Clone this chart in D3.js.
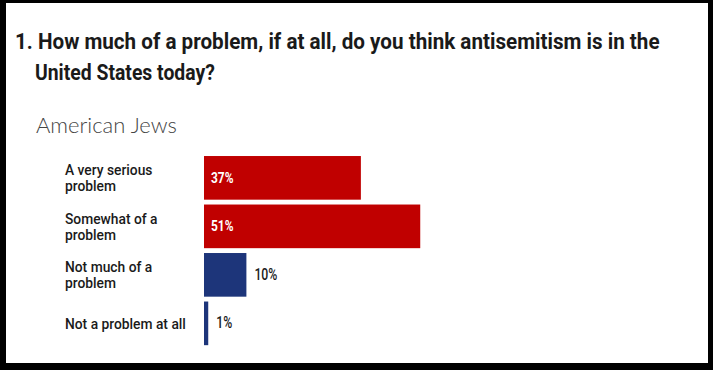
<!DOCTYPE html>
<html>
<head>
<meta charset="utf-8">
<script src="https://cdn.jsdelivr.net/npm/d3@7"></script>
<style>
  html, body { margin: 0; padding: 0; background: #000; }
  svg { display: block; }
</style>
</head>
<body>
<div id="chart"></div>
<script>
const width = 713;
const height = 370;

// data
const titleLines = [
    "1. How much of a problem, if at all, do you think antisemitism is in the",
    "United States today?"
];
const subtitle = "American Jews";
const categories = [
    ["A very serious", "problem"],
    ["Somewhat of a", "problem"],
    ["Not much of a", "problem"],
    ["Not a problem at all"]
];
const values = [37, 51, 10, 1];
const barColors = ["#c00000", "#c00000", "#1d357a", "#1d357a"];
const labelInside = [true, true, false, false];

// squeeze a text horizontally so it looks like the condensed face of the original
function squeeze(sel, x, k){
    sel.attr("transform", `translate(${x},0) scale(${k},1) translate(${-x},0)`);
}

(function main(){
    const svg = d3.select("#chart")
        .append("svg")
        .attr("width", width)
        .attr("height", height);

    // black frame
    svg.append("rect")
        .attr("width", width).attr("height", height)
        .attr("fill", "#000");
    svg.append("rect")
        .attr("x", 6).attr("y", 3)
        .attr("width", 702).attr("height", 360)
        .attr("fill", "#fff");

    // title
    const title = svg.append("g")
        .attr("font-family", "Roboto, sans-serif")
        .attr("font-weight", "bold")
        .attr("font-size", 22.5)
        .attr("fill", "#1a1a1a");
    const titlePos = [[15, 49, 645], [35, 80, 180]];
    title.selectAll("text")
        .data(titleLines)
        .join("text")
        .attr("x", (d,i) => titlePos[i][0])
        .attr("y", (d,i) => titlePos[i][1])
        .text(d => d)
        .each(function(d, i){
            const w = this.getComputedTextLength();
            squeeze(d3.select(this), titlePos[i][0], titlePos[i][2] / w);
        });

    svg.append("text")
        .attr("x", 36).attr("y", 133)
        .attr("font-family", "Lato, sans-serif")
        .attr("font-weight", 300)
        .attr("font-size", 22)
        .attr("fill", "#444")
        .text(subtitle);

    const xScale = d3.scaleLinear()
        .domain([0, 100])
        .range([204, 628]);

    const yScale = d3.scaleBand()
        .domain(d3.range(values.length))
        .range([153.6, 347.6])
        .paddingInner(0.1)
        .paddingOuter(0.05);

    const rows = svg.selectAll("g.row")
        .data(values)
        .join("g")
        .attr("class", "row");

    rows.append("rect")
        .attr("x", xScale(0))
        .attr("y", (d,i) => yScale(i))
        .attr("width", d => xScale(d) - xScale(0))
        .attr("height", yScale.bandwidth())
        .attr("fill", (d,i) => barColors[i]);

    // category labels, left
    const labels = [];
    rows.each(function(d, i){
        const lines = categories[i];
        const cy = yScale(i) + yScale.bandwidth() / 2;
        const base = lines.length == 1 ? cy + 6 : cy - 2.5;
        const t = d3.select(this).append("text")
            .attr("font-family", "Roboto, sans-serif")
            .attr("font-weight", 500)
            .attr("font-size", 15)
            .attr("fill", "#1a1a1a");
        t.selectAll("tspan")
            .data(lines)
            .join("tspan")
            .attr("x", 65)
            .attr("y", (l,j) => base + j * 16)
            .text(l => l);
        labels.push(t);
    });
    // "Not a problem at all" runs 121px wide in the original
    const kLab = 121 / labels[3].node().getComputedTextLength();
    labels.forEach(t => squeeze(t, 65, kLab));

    // value labels
    rows.append("text")
        .attr("x", (d,i) => labelInside[i] ? xScale(0) + 7 : xScale(d) + 8)
        .attr("y", (d,i) => yScale(i) + yScale.bandwidth() / 2 + 5)
        .attr("font-family", "Roboto, sans-serif")
        .attr("font-weight", (d,i) => labelInside[i] ? "bold" : 500)
        .attr("font-size", (d,i) => labelInside[i] ? 14 : 16)
        .attr("fill", (d,i) => labelInside[i] ? "#fff" : "#1a1a1a")
        .text(d => d + "%")
        .each(function(d, i){
            const x = +d3.select(this).attr("x");
            const target = labelInside[i] ? 22.5 : (d < 10 ? 16 : 23);
            squeeze(d3.select(this), x, target / this.getComputedTextLength());
        });
})();
</script>
</body>
</html>
